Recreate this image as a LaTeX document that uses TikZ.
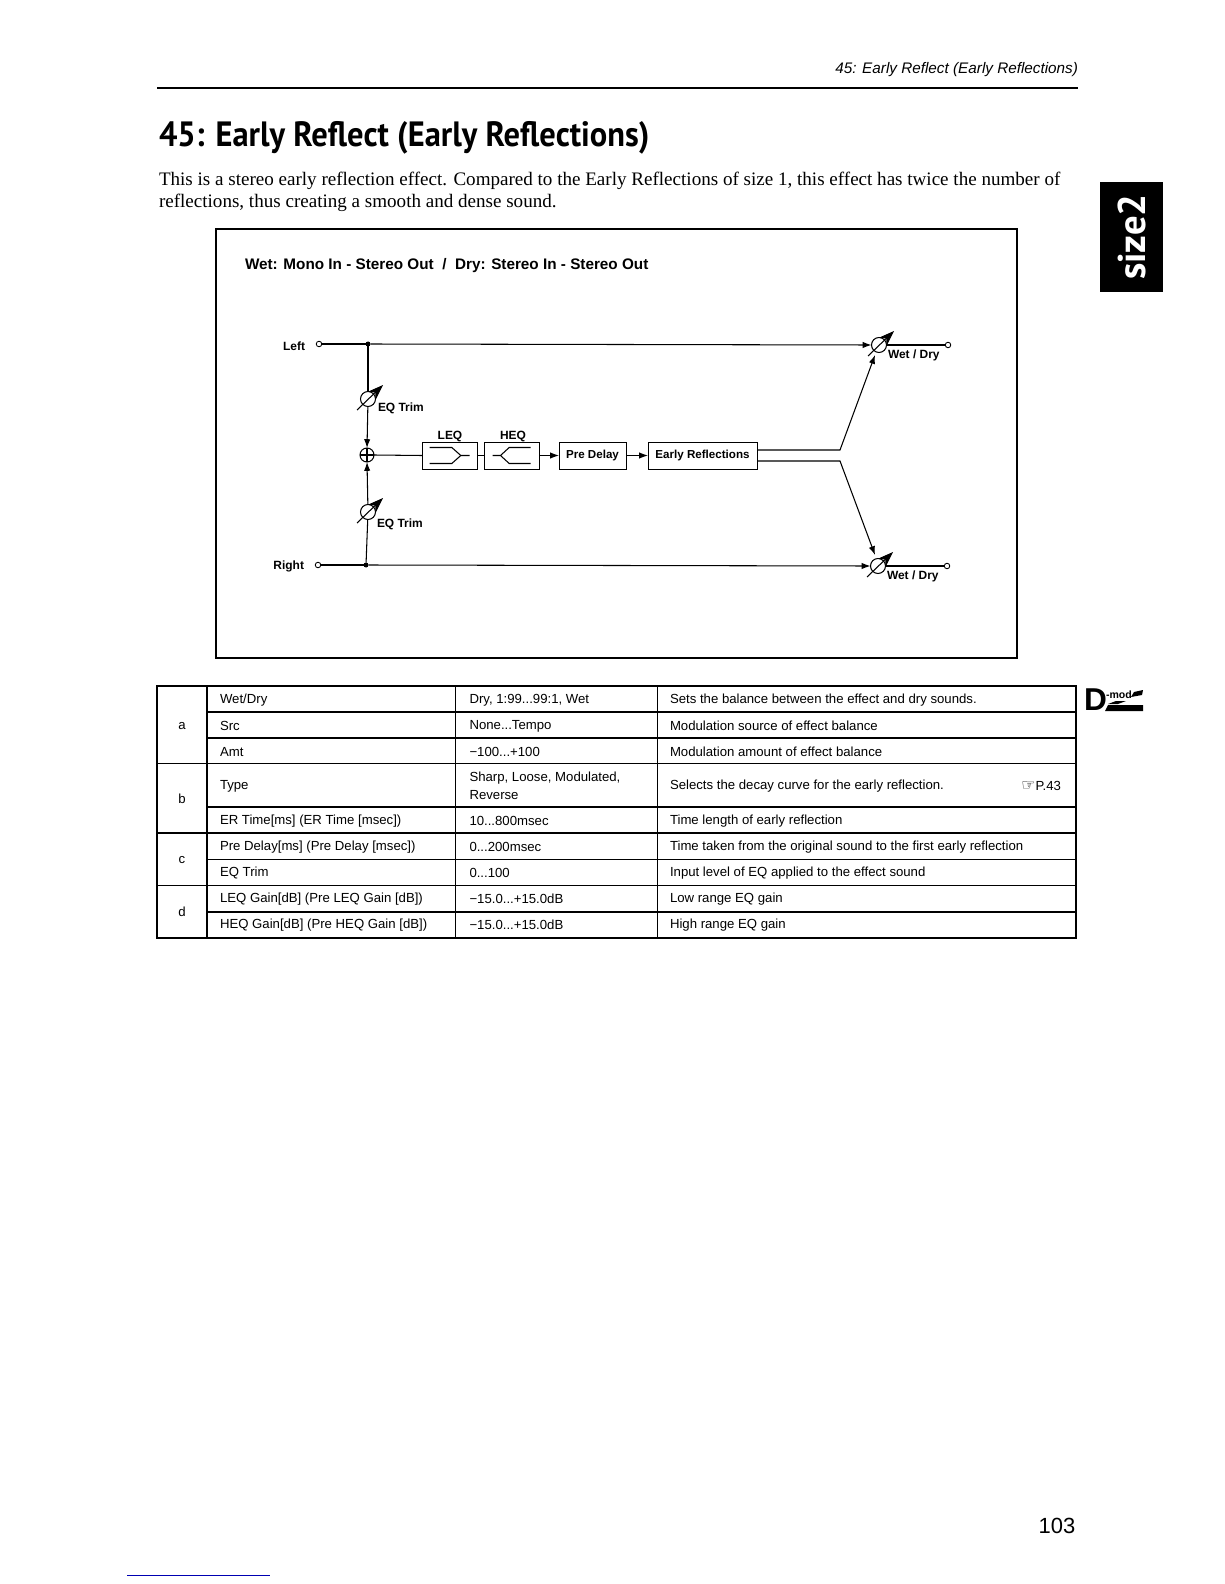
\documentclass[tikz,border=0pt]{standalone}
\usepackage{fontspec}
\setmainfont{Liberation Sans}
\newfontfamily\bodyfont{Liberation Serif}
\newfontfamily\titlefont{PT Sans}
\newfontfamily\symfont{DejaVu Sans}
\usetikzlibrary{arrows,arrows.meta,positioning,calc}

\begin{document}
\begin{tikzpicture}[
    x=0.02cm, y=-0.02cm,
    every node/.style={inner sep=0pt, outer sep=0pt},
    block/.style={rectangle, draw, line width=0.55pt, minimum height=0.54cm, font=\fontsize{6.6}{8}\selectfont\bfseries},
    label/.style={yshift=-0.7pt, font=\fontsize{6.8}{8}\selectfont\bfseries},
    cell/.style={anchor=west, yshift=-0.6pt, font=\fontsize{7.5}{9}\selectfont},
    pot/.style={circle, draw, line width=0.6pt, minimum size=0.3cm},
    dot/.style={circle, fill, minimum size=0.1cm},
    term/.style={circle, draw, fill=white, line width=0.5pt, minimum size=0.11cm},
    arrow/.style={-{Latex[length=5pt,width=3.6pt]}, line width=0.6pt},
    wire/.style={line width=0.6pt},
    potarrow/.style={-{Stealth[length=9pt,width=6.5pt]}, line width=0.6pt},
    rule/.style={line width=0.6pt},
    frame/.style={line width=1.1pt}
]
    \useasboundingbox (0,0) rectangle (1224,1584);

    % Page head
    \node[anchor=east, font=\fontsize{8.7}{10}\selectfont\itshape] (head) at (1078,70) {45: Early Reflect (Early Reflections)};
    \draw[line width=1pt] (157,88) -- (1078,88);
    \node[anchor=west, xscale=0.925, font=\titlefont\fontsize{20}{24}\selectfont\bfseries] (title) at (159,138) {45: Early Reflect (Early Reflections)};
    \node[anchor=west, font=\bodyfont\fontsize{10.85}{13}\selectfont] (introa) at (159,181) {This is a stereo early reflection effect. Compared to the Early Reflections of size 1, this effect has twice the number of};
    \node[anchor=west, font=\bodyfont\fontsize{10.85}{13}\selectfont] (introb) at (159,203) {reflections, thus creating a smooth and dense sound.};

    % Diagram frame
    \draw[frame] (216,229) rectangle (1017,658);
    \node[anchor=west, font=\fontsize{8.7}{10}\selectfont\bfseries] (mode) at (245,266) {Wet: Mono In - Stereo Out\ \ /\ \ Dry: Stereo In - Stereo Out};

    % Inputs
    \node[label, anchor=east] (left) at (305,345) {Left};
    \node[label, anchor=east] (right) at (304,565) {Right};
    \node[term] (inl) at (319,344) {};
    \node[term] (inr) at (318,565) {};
    \node[dot] (junl) at (368,344) {};
    \node[dot] (junr) at (366,565) {};

    % EQ trim and mixer
    \node[pot] (eqa) at (368,399) {};
    \node[pot] (eqb) at (368,512) {};
    \node[pot, minimum size=0.28cm] (sum) at (367,455) {};
    \draw[wire] (sum.north) -- (sum.south);
    \draw[wire] (sum.west) -- (sum.east);
    \node[label, anchor=west] (eqla) at (378,407) {EQ Trim};
    \node[label, anchor=west] (eqlb) at (377,523) {EQ Trim};

    % Effect chain
    \node[block, minimum width=1.1cm] (leq) at (449.5,455.5) {};
    \node[block, minimum width=1.1cm] (heq) at (511.5,455.5) {};
    \node[block, minimum width=1.34cm] (predelay) at (592.5,455.5) {Pre Delay};
    \node[block, minimum width=2.18cm] (early) at (702.5,455.5) {Early Reflections};
    \node[label] (leql) at (450,435) {LEQ};
    \node[label] (heql) at (513,435) {HEQ};
    \draw[wire, shift={(leq.center)}] (-20,-8) -- (2.3,-8) -- (11.3,0) -- (20,0);
    \draw[wire, shift={(leq.center)}] (-20,8) -- (2.3,8) -- (11.3,0);
    \draw[wire, shift={(heq.center)}] (-19,0) -- (-11,0) -- (-2.3,-8) -- (19,-8);
    \draw[wire, shift={(heq.center)}] (-11,0) -- (-2.3,8) -- (19,8);

    % Outputs
    \node[pot] (wetl) at (879,345) {};
    \node[pot] (wetr) at (878,566) {};
    \node[term] (outl) at (948,345) {};
    \node[term] (outr) at (947,566) {};
    \node[label, anchor=west] (wla) at (888,354) {Wet / Dry};
    \node[label, anchor=west] (wlb) at (887,575) {Wet / Dry};
    \coordinate (splita) at (840,450);
    \coordinate (splitb) at (840,461);
    \coordinate (wetin) at (875,355);
    \coordinate (wetrin) at (875,555);

    % Connections
    \draw[wire] (inl) -- (junl);
    \draw[wire] (inr) -- (junr);
    \draw[arrow] (junl) -- (wetl.west);
    \draw[arrow] (junr) -- (wetr.west);
    \draw[wire] (junl) -- (eqa);
    \draw[wire] (junr) -- (eqb);
    \draw[arrow] (eqa) -- (sum.north);
    \draw[arrow] (eqb) -- (sum.south);
    \draw[wire] (sum.east) -- (leq.west);
    \draw[wire] (leq.east) -- (heq.west);
    \draw[arrow] (heq.east) -- (predelay.west);
    \draw[arrow] (predelay.east) -- (early.west);
    \draw[arrow] (early.east |- splita) -- (splita) -- (wetin);
    \draw[arrow] (early.east |- splitb) -- (splitb) -- (wetrin);
    \draw[wire] (wetl) -- (outl);
    \draw[wire] (wetr) -- (outr);

    % Pot sliders
    \draw[potarrow] ([shift={(-11,11)}]eqa.center) -- ([shift={(15,-14)}]eqa.center);
    \draw[potarrow] ([shift={(-11,11)}]eqb.center) -- ([shift={(15,-14)}]eqb.center);
    \draw[potarrow] ([shift={(-11,11)}]wetl.center) -- ([shift={(15,-14)}]wetl.center);
    \draw[potarrow] ([shift={(-11,11)}]wetr.center) -- ([shift={(15,-14)}]wetr.center);

    % Table rules
    \draw[rule] (207,712) -- (1076,712);
    \draw[rule] (207,738) -- (1076,738);
    \draw[rule] (157,763.5) -- (1076,763.5);
    \draw[rule] (207,807) -- (1076,807);
    \draw[rule] (157,833) -- (1076,833);
    \draw[rule] (207,859.5) -- (1076,859.5);
    \draw[rule] (157,885.7) -- (1076,885.7);
    \draw[rule] (207,912) -- (1076,912);
    \draw[rule] (207,686) -- (207,938);
    \draw[rule] (455.5,686) -- (455.5,938);
    \draw[rule] (657.5,686) -- (657.5,938);
    \draw[frame] (157,686) rectangle (1076,938);

    % Table section letters
    \node[cell, anchor=center] (seca) at (182,725) {a};
    \node[cell, anchor=center] (secb) at (182,798) {b};
    \node[cell, anchor=center] (secc) at (182,859) {c};
    \node[cell, anchor=center] (secd) at (182,911) {d};

    % Table first column
    \node[cell] (wetdry) at (220,699) {Wet/Dry};
    \node[cell] (src) at (220,725) {Src};
    \node[cell] (amt) at (220,751) {Amt};
    \node[cell] (type) at (220,785) {Type};
    \node[cell] (ertime) at (220,820) {ER Time[ms] (ER Time [msec])};
    \node[cell] (pretime) at (220,846) {Pre Delay[ms] (Pre Delay [msec])};
    \node[cell] (eqtrim) at (220,872) {EQ Trim};
    \node[cell] (leqgain) at (220,898) {LEQ Gain[dB] (Pre LEQ Gain [dB])};
    \node[cell] (heqgain) at (220,924) {HEQ Gain[dB] (Pre HEQ Gain [dB])};

    % Table second column
    \node[cell] (vala) at (469.5,699) {Dry, 1:99...99:1, Wet};
    \node[cell] (valb) at (469.5,725) {None...Tempo};
    \node[cell] (valc) at (469.5,751) {−100...+100};
    \node[cell] (vald) at (469.5,777) {Sharp, Loose, Modulated,};
    \node[cell] (vale) at (469.5,794) {Reverse};
    \node[cell] (valf) at (469.5,820) {10...800msec};
    \node[cell] (valg) at (469.5,846) {0...200msec};
    \node[cell] (valh) at (469.5,872) {0...100};
    \node[cell] (vali) at (469.5,898) {−15.0...+15.0dB};
    \node[cell] (valj) at (469.5,924) {−15.0...+15.0dB};

    % Table third column
    \node[cell] (desa) at (670,699) {Sets the balance between the effect and dry sounds.};
    \node[cell] (desb) at (670,725) {Modulation source of effect balance};
    \node[cell] (desc) at (670,751) {Modulation amount of effect balance};
    \node[cell] (desd) at (670,785) {Selects the decay curve for the early reflection.};
    \node[cell, anchor=east] (desp) at (1061,785) {{\symfont\fontsize{9}{9}\selectfont ☞}P.43};
    \node[cell] (dese) at (670,820) {Time length of early reflection};
    \node[cell] (desf) at (670,846) {Time taken from the original sound to the first early reflection};
    \node[cell] (desg) at (670,872) {Input level of EQ applied to the effect sound};
    \node[cell] (desh) at (670,898) {Low range EQ gain};
    \node[cell] (desi) at (670,924) {High range EQ gain};

    % Side tab
    \node[fill=black, minimum width=1.26cm, minimum height=2.2cm] (tab) at (1131.5,237) {};
    \node[rotate=90, text=white, font=\titlefont\fontsize{22}{24}\selectfont\bfseries] (size) at (tab.center) {size2};

    % D-mod mark
    \node[anchor=west, font=\fontsize{18}{20}\selectfont\bfseries] (dmark) at (1084,700) {D};
    \node[anchor=west, font=\fontsize{6}{8}\selectfont\bfseries] (dmod) at (1106,695) {-mod};
    \fill (1105,711) -- (1108,705) -- (1143,705) -- (1143,711) -- cycle;
    \fill (1108,704) -- (1116,701) -- (1126,701) -- (1118,704) -- cycle;
    \fill (1131,697) -- (1134,692) -- (1143,690) -- (1142,695) -- cycle;

    % Page number and foot rule
    \node[font=\fontsize{12.5}{14}\selectfont] (page) at (1057,1526) {103};
    \draw[blue!70!black, line width=0.4pt] (127,1575) -- (270,1575);
\end{tikzpicture}
\end{document}
